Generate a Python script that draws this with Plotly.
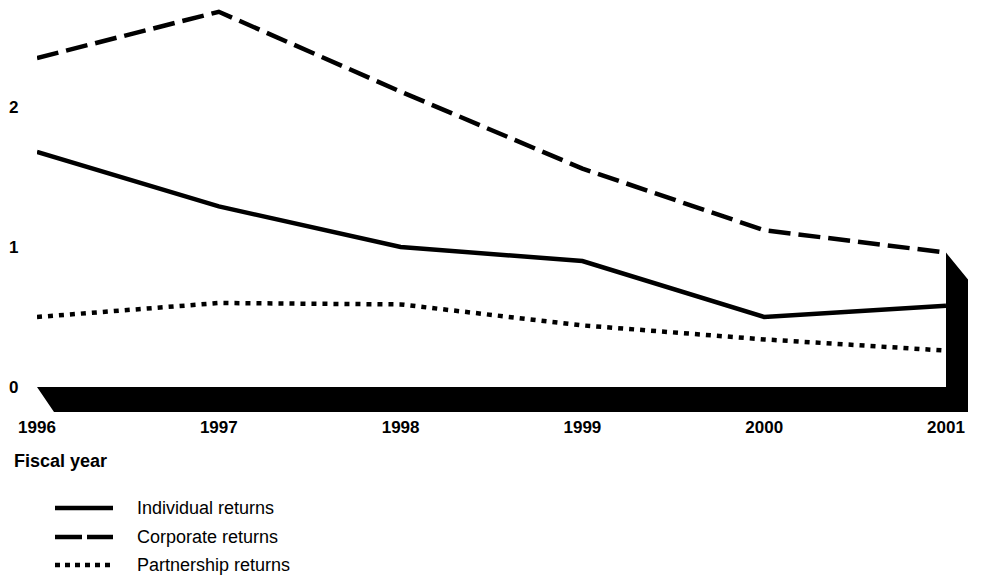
import plotly.graph_objects as go

years = [1996, 1997, 1998, 1999, 2000, 2001]
individual = [1.68, 1.29, 1.00, 0.90, 0.50, 0.58]
corporate = [2.35, 2.68, 2.11, 1.56, 1.12, 0.96]
partnership = [0.50, 0.60, 0.59, 0.44, 0.34, 0.26]
y_ticks = [0, 1, 2]
series_names = ["Individual returns", "Corporate returns", "Partnership returns"]

# page has an 8px body margin; the figure is laid out in page pixels minus that offset
OFF = 8
W, H = 985 - OFF, 579 - OFF
plot_left, plot_right = 37 - OFF, 968 - OFF
plot_top, plot_bottom = 0, 412 - OFF
L, R, T, B = plot_left, W - plot_right, plot_top, H - plot_bottom
plot_w = plot_right - plot_left
plot_h = plot_bottom - plot_top
px_per_year = 909 / 5.0
px_per_unit = 140.0
zero_px = 387 - OFF
ymin = -(plot_bottom - zero_px) / px_per_unit
ymax = (zero_px - plot_top) / px_per_unit
xmax = 2001 + 22 / px_per_year

FONT = "Liberation Sans, Arial, sans-serif"
dashes = ["solid", "22px,8px", "5px,6px"]
legend_dashes = ["solid", "27px,5px", "5px,5px"]
LW = 4.5

fig = go.Figure()
for name, vals, d in zip(series_names, [individual, corporate, partnership], dashes):
    fig.add_trace(go.Scatter(x=years, y=vals, mode="lines", name=name,
                             line=dict(color="black", width=LW, dash=d),
                             showlegend=False, hoverinfo="skip"))

# 3D floor + right wall decoration
x0, x1 = years[0], years[-1]
slant = 17 / px_per_year
wall_top = corporate[-1]
wall_drop = 27 / px_per_unit
path = (f"M {x0},0 L {x1},0 L {x1},{wall_top} L {xmax},{wall_top - wall_drop} "
        f"L {xmax},{ymin} L {x0 + slant},{ymin} Z")
fig.add_shape(type="path", path=path, xref="x", yref="y",
              fillcolor="black", line=dict(color="black", width=0), layer="below")

def px2paper_x(px):
    return (px - OFF - plot_left) / plot_w

def px2paper_y(py):
    return (plot_bottom - (py - OFF)) / plot_h

# y tick labels
for v in y_ticks:
    fig.add_annotation(x=px2paper_x(20), xref="paper", y=v, yref="y",
                       text=f"<b>{v}</b>", showarrow=False, xanchor="right", yanchor="middle",
                       font=dict(family=FONT, size=17, color="black"))

# x-axis title
fig.add_annotation(x=px2paper_x(12), xref="paper", y=px2paper_y(461), yref="paper",
                   text="<b>Fiscal year</b>", showarrow=False, xanchor="left", yanchor="middle",
                   font=dict(family=FONT, size=18, color="black"))

# legend
legend_rows = [508, 537, 565]
for name, d, ry in zip(series_names, legend_dashes, legend_rows):
    fig.add_shape(type="line", xref="paper", yref="paper",
                  x0=px2paper_x(55), x1=px2paper_x(113),
                  y0=px2paper_y(ry), y1=px2paper_y(ry),
                  line=dict(color="black", width=LW, dash=d))
    fig.add_annotation(x=px2paper_x(135), xref="paper", y=px2paper_y(ry), yref="paper",
                       text=name, showarrow=False, xanchor="left", yanchor="middle",
                       font=dict(family=FONT, size=18, color="black"))

fig.update_layout(
    width=W, height=H,
    margin=dict(l=L, r=R, t=T, b=B, autoexpand=False),
    paper_bgcolor="white", plot_bgcolor="white",
    xaxis=dict(range=[x0, xmax], tickvals=years, ticktext=[f"<b>{y}</b>" for y in years],
               showgrid=False, zeroline=False, showline=False, ticks="",
               tickfont=dict(family=FONT, size=17, color="black"), ticklabelstandoff=3),
    yaxis=dict(range=[ymin, ymax], showgrid=False, zeroline=False, showline=False,
               showticklabels=False, ticks=""),
    showlegend=False,
)

fig.write_html("out.html")
